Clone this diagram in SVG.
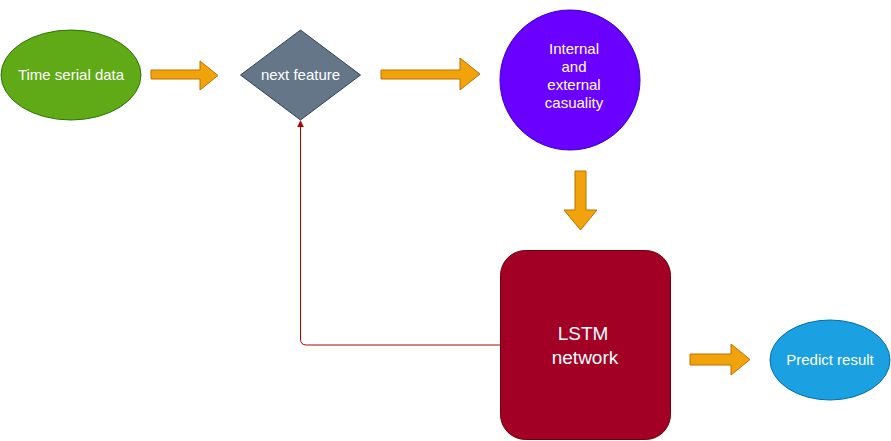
<svg xmlns="http://www.w3.org/2000/svg" width="891" height="441" viewBox="0 0 891 441">
<style>
.lbl{font-family:"Liberation Sans",Arial,Helvetica,sans-serif;fill:#ffffff;text-anchor:middle}
.s15{font-size:15px}
.s19{font-size:19px}
.blk{fill:#f0a30a;stroke:#BD7000;stroke-width:1}
</style>
<defs>
<marker id="redArrow" viewBox="0 0 10 10" refX="9" refY="5" markerWidth="7" markerHeight="7" markerUnits="userSpaceOnUse" orient="auto">
<path d="M0,0 L10,5 L0,10 Z" fill="#B20000" stroke="none"/>
</marker>
</defs>
<rect width="891" height="441" fill="#ffffff"/>
<g id="connectors">
<path d="M500,345 L306.5,345 Q300.5,345 300.5,339 L300.5,121" fill="none" stroke="#B20000" stroke-width="1" marker-end="url(#redArrow)"/>
<polygon class="blk" points="151,70 200,70 200,61 218,75.5 200,90 200,79 151,79"/>
<polygon class="blk" points="381,70 460,70 460,58 480,74 460,90 460,79 381,79"/>
<polygon class="blk" points="575,171 586,171 586,210 597,210 580.5,230 564,210 575,210"/>
<polygon class="blk" points="690,354 731,354 731,344 750,359.5 731,375 731,365 690,365"/>
</g>
<g id="time-serial-data">
<ellipse cx="71" cy="75" rx="70" ry="45" fill="#60a917" stroke="#2D7600"/>
<text class="lbl s15" x="71" y="80">Time serial data</text>
</g>
<g id="next-feature">
<polygon points="300.5,30 360.5,75 300.5,120 240.5,75" fill="#647687" stroke="#314354"/>
<text class="lbl s15" x="300.5" y="80">next feature</text>
</g>
<g id="casuality">
<circle cx="570" cy="80" r="70" fill="#6a00ff" stroke="#3700CC"/>
<text class="lbl s15" x="574" y="54">Internal</text>
<text class="lbl s15" x="574" y="72">and</text>
<text class="lbl s15" x="574" y="90">external</text>
<text class="lbl s15" x="574" y="108">casuality</text>
</g>
<g id="lstm">
<rect x="500.5" y="250.5" width="170" height="189" rx="25" ry="25" fill="#a20025" stroke="#6F0000"/>
<text class="lbl s19" x="583" y="340">LSTM</text>
<text class="lbl s19" x="585" y="364">network</text>
</g>
<g id="predict-result">
<ellipse cx="830" cy="360" rx="60" ry="40" fill="#1ba1e2" stroke="#006EAF"/>
<text class="lbl s15" x="830" y="365">Predict result</text>
</g>
</svg>
